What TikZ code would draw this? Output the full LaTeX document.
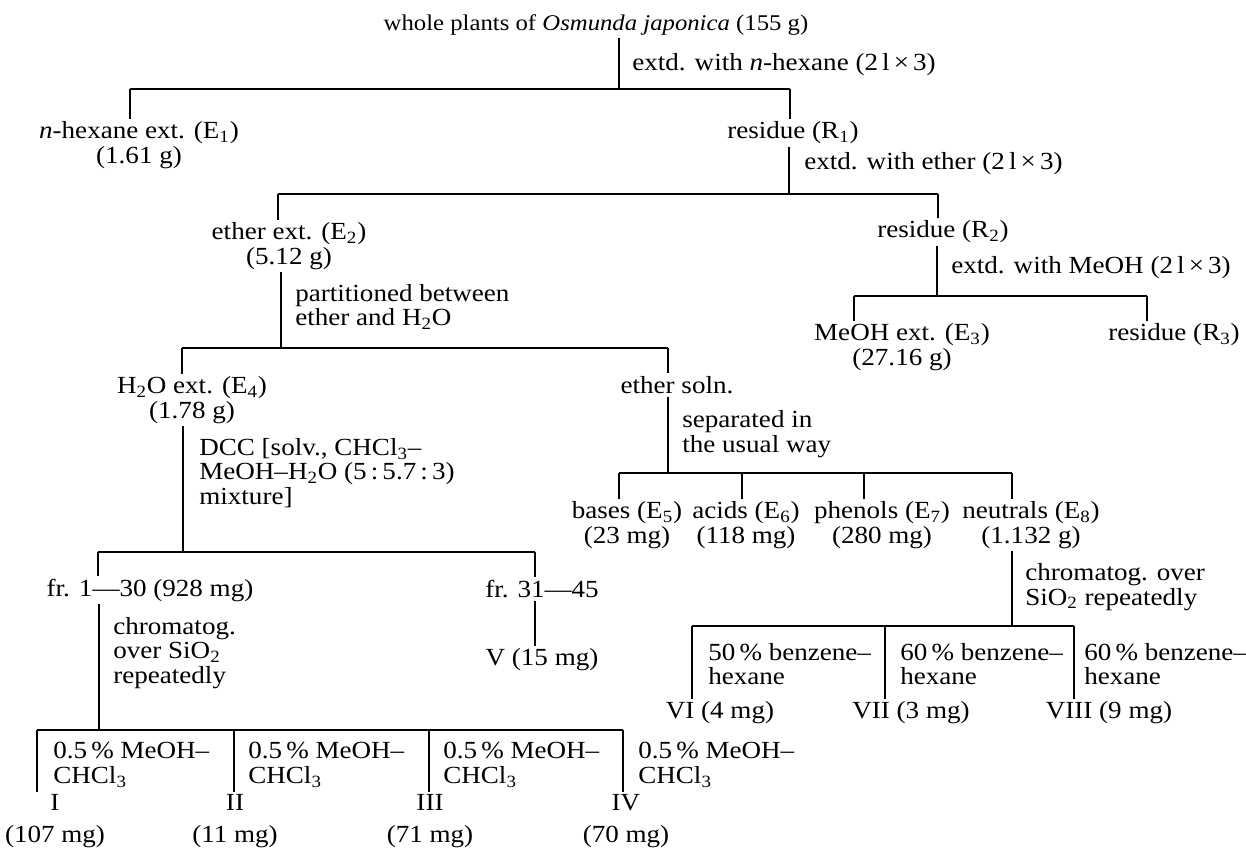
\documentclass[tikz,border=0pt]{standalone}
\usepackage{fontspec}
\setmainfont{Liberation Serif}[FakeStretch=1.1]
\usetikzlibrary{positioning}
\newcommand{\sbs}[1]{\textsubscript{#1}}

\begin{document}
\begin{tikzpicture}[x=0.02cm,y=-0.02cm,
  font=\fontsize{14}{14}\selectfont,
  prod/.style={align=center,inner sep=1.5pt},
  note/.style={align=left,anchor=west,inner sep=0pt},
  every edge/.style={draw,line width=0.8pt}]
\useasboundingbox (0,0) rectangle (1246,852);

\node[prod,font=\fontsize{12.8}{14}\selectfont] (W) at (596,25) {whole plants of \textit{Osmunda japonica} (155 g)};
\node[prod] (E1) at (139,145) {\textit{n}-hexane ext. (E\sbs{1})\\(1.61 g)};
\node[prod] (R1) at (793,133) {residue (R\sbs{1})};
\node[prod] (E2) at (289,246) {ether ext. (E\sbs{2})\\(5.12 g)};
\node[prod] (R2) at (943,232) {residue (R\sbs{2})};
\node[prod] (E3) at (902,347) {MeOH ext. (E\sbs{3})\\(27.16 g)};
\node[prod] (R3) at (1174,335) {residue (R\sbs{3})};
\node[prod] (E4) at (192,400) {H\sbs{2}O ext. (E\sbs{4})\\(1.78 g)};
\node[prod] (S) at (677,385) {ether soln.};
\node[prod] (E5) at (627,525) {bases (E\sbs{5})\\(23 mg)};
\node[prod] (E6) at (746,525) {acids (E\sbs{6})\\(118 mg)};
\node[prod] (E7) at (882,525) {phenols (E\sbs{7})\\(280 mg)};
\node[prod] (E8) at (1031,525) {neutrals (E\sbs{8})\\(1.132 g)};
\node[prod] (F1) at (150,590) {fr. 1---30 (928 mg)};
\node[prod] (F2) at (542,589) {fr. 31---45};
\node[prod] (V) at (542,660) {V (15 mg)};
\node[prod] (VI) at (720,713) {VI (4 mg)};
\node[prod] (VII) at (911,713) {VII (3 mg)};
\node[prod] (VIII) at (1109,713) {VIII (9 mg)};
\node[prod] (I) at (55,821) {I\\[4pt](107 mg)};
\node[prod] (II) at (235,821) {II\\[4pt](11 mg)};
\node[prod] (III) at (430,821) {III\\[4pt](71 mg)};
\node[prod] (IV) at (626,821) {IV\\[4pt](70 mg)};

\node[note] (n1) at (632,65) {extd. with \textit{n}-hexane (2\,l\,×\,3)};
\node[note] (n2) at (804,164) {extd. with ether (2\,l\,×\,3)};
\node[note] (n3) at (951,268) {extd. with MeOH (2\,l\,×\,3)};
\node[note] (n4) at (295,307) {partitioned between\\ether and H\sbs{2}O};
\node[note] (n5) at (199,473) {DCC [solv., CHCl\sbs{3}--\\MeOH--H\sbs{2}O (5\,:\,5.7\,:\,3)\\mixture]};
\node[note] (n6) at (682,434) {separated in\\the usual way};
\node[note] (n7) at (113,653) {chromatog.\\over SiO\sbs{2}\\repeatedly};
\node[note] (n8) at (1025,587) {chromatog. over\\SiO\sbs{2} repeatedly};
\node[note] (b1) at (708,664) {50\,\% benzene--\\hexane};
\node[note] (b2) at (900,664) {60\,\% benzene--\\hexane};
\node[note] (b3) at (1084,664) {60\,\% benzene--\\hexane};
\node[note] (c1) at (53,765) {0.5\,\% MeOH--\\CHCl\sbs{3}};
\node[note] (c2) at (248,765) {0.5\,\% MeOH--\\CHCl\sbs{3}};
\node[note] (c3) at (443,765) {0.5\,\% MeOH--\\CHCl\sbs{3}};
\node[note] (c4) at (638,765) {0.5\,\% MeOH--\\CHCl\sbs{3}};

\coordinate (s1) at (619,89);
\coordinate (h1a) at (130,89);
\coordinate (h1b) at (790,89);
\coordinate (s2) at (789,194);
\coordinate (h2a) at (278,194);
\coordinate (h2b) at (938,194);
\coordinate (s3) at (937,296);
\coordinate (h3a) at (854,296);
\coordinate (h3b) at (1147,296);
\coordinate (s4) at (281,348);
\coordinate (h4a) at (182,348);
\coordinate (h4b) at (668,348);
\coordinate (s5) at (183,552);
\coordinate (h5a) at (98,552);
\coordinate (h5b) at (535,552);
\coordinate (s6) at (668,473);
\coordinate (h6a) at (619,473);
\coordinate (h6b) at (742,473);
\coordinate (h6c) at (864,473);
\coordinate (h6d) at (1012,473);
\coordinate (s7) at (1012,626);
\coordinate (h7a) at (692,626);
\coordinate (h7b) at (885,626);
\coordinate (h7c) at (1074,626);
\coordinate (s8) at (99,730);
\coordinate (h8a) at (37,730);
\coordinate (h8b) at (234,730);
\coordinate (h8c) at (429,730);
\coordinate (h8d) at (623,730);

\path
  (W.south -| s1) edge (s1)
  (h1a) edge (h1b)
  (h1a) edge (E1.north -| h1a)
  (h1b) edge (R1.north -| h1b)
  (R1.south -| s2) edge (s2)
  (h2a) edge (h2b)
  (h2a) edge (E2.north -| h2a)
  (h2b) edge (R2.north -| h2b)
  (R2.south -| s3) edge (s3)
  (h3a) edge (h3b)
  (h3a) edge (E3.north -| h3a)
  (h3b) edge (R3.north -| h3b)
  (E2.south -| s4) edge (s4)
  (h4a) edge (h4b)
  (h4a) edge (E4.north -| h4a)
  (h4b) edge (S.north -| h4b)
  (E4.south -| s5) edge (s5)
  (h5a) edge (h5b)
  (h5a) edge (F1.north -| h5a)
  (h5b) edge (F2.north -| h5b)
  (F2.south -| h5b) edge (V.north -| h5b)
  (S.south -| s6) edge (s6)
  (h6a) edge (h6d)
  (h6a) edge (E5.north -| h6a)
  (h6b) edge (E6.north -| h6b)
  (h6c) edge (E7.north -| h6c)
  (h6d) edge (E8.north -| h6d)
  (E8.south -| s7) edge (s7)
  (h7a) edge (h7c)
  (h7a) edge (VI.north -| h7a)
  (h7b) edge (VII.north -| h7b)
  (h7c) edge (VIII.north -| h7c)
  (F1.south -| s8) edge (s8)
  (h8a) edge (h8d)
  (h8a) edge (I.north -| h8a)
  (h8b) edge (II.north -| h8b)
  (h8c) edge (III.north -| h8c)
  (h8d) edge (IV.north -| h8d);
\end{tikzpicture}
\end{document}
